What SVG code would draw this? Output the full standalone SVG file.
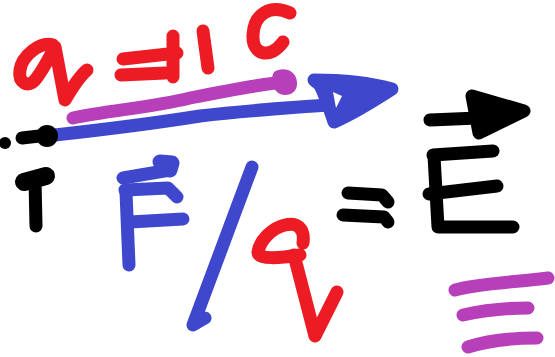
<svg xmlns="http://www.w3.org/2000/svg" width="555" height="357" viewBox="0 0 555 357">
<style>
.s{fill:none;stroke-linecap:round;stroke-linejoin:round;stroke-width:13}
.r{stroke:#ed1c24}.b{stroke:#3f48cc}.k{stroke:#000}.m{stroke:#b83fba}
</style>
<rect width="555" height="357" fill="#fff"/>
<g id="charge-label">
<path class="s r" d="M53 45 C40 41 22 56 20 70 C18 83 28 88 35 80 C42 72 50 56 55 47 L65 100 C72 88 80 76 87 70"/>
<path class="s r" d="M123 59 L177 53 M121 75 L165 73 M173 36 L173 77"/>
<path class="s r" d="M203 31 L208 68"/>
<path class="s r" d="M290 13 C270 4 254 14 253 35 C252 55 270 60 283 42"/>
</g>
<g id="magenta-vector">
<path class="s m" d="M73 118 C110 110 150 108 190 98 C230 90 260 84 285 82"/>
<path d="M274 72 C283 66 296 70 297 82 C298 93 288 97 280 94 C272 90 270 78 274 72 Z" fill="#b83fba"/>
</g>
<g id="blue-vector">
<path class="s b" d="M55 135 C100 130 150 124 200 116 C250 110 290 108 327 105"/>
<path class="s b" d="M314 80 C340 80 370 83 392 89 C375 100 350 115 334 122 C330 110 326 97 320 85 Z" style="fill:#3f48cc"/>
<path d="M333 92 L342 96 L336 108 Z" fill="#fff"/>
</g>
<g id="point">
<circle cx="5" cy="143" r="6" fill="#000"/>
<path class="s k" d="M22 138 L48 135"/>
<circle cx="47" cy="136" r="11" fill="#000"/>
<path class="s k" d="M24 182 L46 176" style="stroke-width:18"/>
<path class="s k" d="M35 180 L36 226"/>
</g>
<g id="F-vector">
<path class="s b" d="M123 178 L170 170"/>
<path class="s b" d="M160 162 L172 163 L170 170" style="stroke-width:15"/>
<path class="s b" d="M125 190 L168 188 L177 197"/>
<path class="s b" d="M126 192 L129 265"/>
<path class="s b" d="M130 222 L183 219"/>
</g>
<g id="slash">
<path class="s b" d="M252 167 L193 325 L205 318"/>
</g>
<g id="q">
<path class="s r" d="M303 243 C305 228 297 222 285 225 C272 228 260 240 258 252 C258 260 280 258 300 255"/>
<path class="s r" d="M294 255 L315 336 L337 292"/>
</g>
<g id="equals">
<path class="s k" d="M348 193 L382 195 L388 202"/>
<path class="s k" d="M343 215 L384 217 L388 222"/>
</g>
<g id="E-vector">
<path class="s k" d="M430 120 L478 118"/>
<path class="s k" d="M472 96 L524 111 L479 133 Z" style="fill:#000"/>
<path class="s k" d="M433 155 L493 151"/>
<path class="s k" d="M434 156 L438 227 L513 227"/>
<path class="s k" d="M429 194 L497 186"/>
</g>
<g id="triple-bar">
<path class="s m" d="M455 290 C480 283 520 282 548 278"/>
<path class="s m" d="M463 315 C485 310 510 308 528 308"/>
<path class="s m" d="M468 347 C490 340 515 338 537 338"/>
</g>
</svg>
